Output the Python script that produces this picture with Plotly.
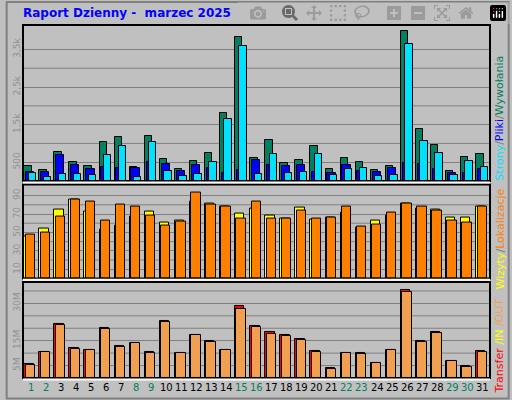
import plotly.graph_objects as go

days = list(range(1, 32))
hits = [395,290,763,500,395,1026,1184,368,1210,579,316,526,737,1816,3842,614,1079,474,553,921,316,605,500,290,395,4000,1395,947,263,632,711]
files = [228,237,684,421,316,377,351,351,500,447,263,421,351,211,290,553,421,395,421,237,211,421,263,237,342,474,447,316,211,211,316]
pages = [202,105,184,184,158,684,921,105,1026,263,132,184,500,1658,3579,184,711,211,237,711,158,316,342,132,158,3640,1053,737,158,526,368]
visits = [46,54,75,86,73,53,57,67,73,61,63,84,81,78,70,76,68,65,77,64,66,72,55,63,68,81,76,75,66,66,78]
sites = [48,50,67,86,84,63,80,78,68,57,62,93,80,78,65,83,65,65,74,65,66,78,56,59,72,81,78,74,63,61,78]
kbytes = [5.5,10.3,21.7,12.2,11.1,20.1,13.0,14.2,10.3,22.9,9.9,17.4,15.0,11.4,28.8,20.9,18.6,17.4,15.8,10.7,3.9,9.9,9.9,5.9,11.4,35.5,15.0,18.6,6.7,4.7,10.7]
kout = [5.1,10.3,21.3,11.8,11.1,19.7,12.6,14.2,9.9,22.5,9.9,17.4,14.6,11.1,27.6,20.5,17.8,17.0,15.4,10.3,3.6,9.9,9.5,5.9,11.4,34.7,14.6,18.2,6.7,4.3,10.3]
weekend = {1,2,8,9,15,16,22,23,29,30}

fig = go.Figure()
line = dict(color="black", width=1)
def bar(y, color, off, w, ax):
    fig.add_bar(x=days, y=y, marker=dict(color=color, line=line), offset=off, width=w,
                xaxis="x", yaxis=ax, showlegend=False)

bar(hits, "#008060", -0.42, 0.49, "y3")
bar(files, "#0000ff", -0.3, 0.55, "y3")
bar(pages, "#00e0ff", -0.13, 0.49, "y3")
bar(visits, "#ffff00", -0.42, 0.62, "y2")
bar(sites, "#ff8000", -0.33, 0.62, "y2")
bar(kbytes, "#ff0000", -0.42, 0.62, "y")
bar(kout, "#f0a050", -0.33, 0.62, "y")

tf = dict(color="#909090", size=9, family="DejaVu Sans")
ycommon = dict(showgrid=True, gridcolor="#808080", gridwidth=1, tickangle=-90, tickfont=tf,
               zeroline=False, showline=False, ticks="", ticklen=0)
fig.update_layout(
    width=512, height=400, paper_bgcolor="#c0c0c0", plot_bgcolor="#c0c0c0",
    margin=dict(l=20, r=22, t=25, b=22), barmode="overlay", bargap=0,
    xaxis=dict(range=[0.5, 31.5], showticklabels=False, showgrid=False, zeroline=False, ticks=""),
    yaxis=dict(domain=[0, 0.272], range=[0, 38.6], tickvals=[5, 15, 30], ticktext=["5M", "15M", "30M"],
               **ycommon),
    yaxis2=dict(domain=[0.282, 0.548], range=[0, 102], tickvals=[10, 30, 50, 70, 90], **ycommon),
    yaxis3=dict(domain=[0.558, 1], range=[0, 4150], tickvals=[500, 1500, 2500, 3500],
                ticktext=["500", "1,5k", "2,5k", "3,5k"], **ycommon),
)
for ax, vals in (("y3", [1000, 2000, 3000]), ("y2", [20, 40, 60, 80]), ("y", [10, 20, 25, 35])):
    for v in vals:
        fig.add_shape(type="line", xref="x domain", yref=ax, x0=0, x1=1, y0=v, y1=v,
                      line=dict(color="#808080", width=1), layer="below")

for y0, y1 in ((0, 0.272), (0.282, 0.548), (0.558, 1)):
    fig.add_shape(type="rect", xref="paper", yref="paper", x0=0, x1=1, y0=y0, y1=y1,
                  line=dict(color="black", width=2))
    fig.add_shape(type="line", xref="paper", yref="paper", x0=0, x1=1, y0=y0 - 0.004, y1=y0 - 0.004,
                  line=dict(color="white", width=2))

for d in days:
    fig.add_annotation(x=d, y=-0.005, xref="x", yref="paper", yanchor="top", showarrow=False,
                       text=str(d), font=dict(size=10, family="DejaVu Sans",
                                              color="#008060" if d in weekend else "black"))

fig.add_annotation(x=0.0, y=1.0, xref="paper", yref="paper", xanchor="left", yanchor="bottom",
                   xshift=-2, yshift=3, showarrow=False,
                   text="<b>Raport Dzienny -  marzec 2025</b>",
                   font=dict(color="#0000ff", size=12, family="DejaVu Sans"))
ff = dict(size=11, family="DejaVu Sans")
fig.add_annotation(x=1.0, y=0.552, xref="paper", yref="paper", xanchor="center", yanchor="bottom",
                   xshift=10, textangle=-90, showarrow=False, font=ff,
                   text="<span style='color:#00e0ff'>Strony</span><span style='color:#808080'>/</span>"
                        "<span style='color:#0000ff'>Pliki</span><span style='color:#808080'>/</span>"
                        "<span style='color:#008060'>Wywołania</span>")
fig.add_annotation(x=1.0, y=0.244, xref="paper", yref="paper", xanchor="center", yanchor="bottom",
                   xshift=10, textangle=-90, showarrow=False, font=ff,
                   text="<span style='color:#ffff00'>Wizyty</span><span style='color:#808080'>/</span>"
                        "<span style='color:#ff8000'>Lokalizacje</span>")
fig.add_annotation(x=1.0, y=-0.051, xref="paper", yref="paper", xanchor="center", yanchor="bottom",
                   xshift=10, textangle=-90, showarrow=False, font=ff,
                   text="<span style='color:#ff0000'>Transfer</span><span style='color:#ffff00'> /IN </span>"
                        "<span style='color:#f0a050'>/OUT</span>")
fig.add_shape(type="rect", xref="paper", yref="paper", x0=-0.035, x1=1.04, y0=-0.058, y1=1.065,
              line=dict(color="#808080", width=2))
fig.write_html("out.html", post_script="document.body.style.margin='0';")
